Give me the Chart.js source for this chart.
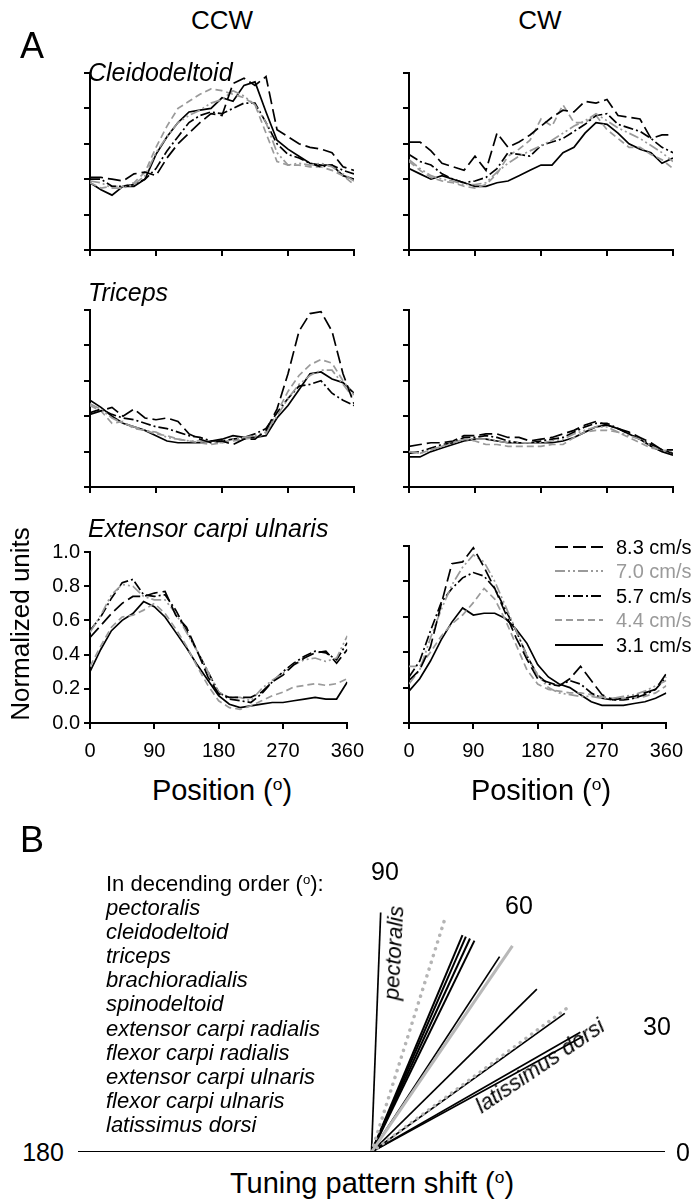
<!DOCTYPE html>
<html>
<head>
<meta charset="utf-8">
<script src="https://cdn.jsdelivr.net/npm/chart.js@4.4.1/dist/chart.umd.min.js"></script>
<style>
  body { margin: 0; background: #fff; }
  #fig { position: relative; width: 693px; height: 1199px; overflow: hidden; font-family: "Liberation Sans", Arial, sans-serif; color: #000; }
  canvas { position: absolute; }
  .t { position: absolute; white-space: nowrap; line-height: 1; }
  .c { transform: translate(-50%, -50%); }
  .l { transform: translateY(-50%); }
  .i { font-style: italic; }
  sup { font-size: 60%; vertical-align: 0.55em; line-height: 0; }
  .gray { color: #9a9a9a; }
</style>
</head>
<body>
<div id="fig">
  <canvas id="p1" width="344" height="197" style="left:30px;top:63px"></canvas>
  <canvas id="p2" width="344" height="197" style="left:349px;top:63px"></canvas>
  <canvas id="p3" width="344" height="197" style="left:30px;top:300px"></canvas>
  <canvas id="p4" width="344" height="197" style="left:349px;top:300px"></canvas>
  <canvas id="p5" width="344" height="232" style="left:30px;top:536px"></canvas>
  <canvas id="p6" width="344" height="232" style="left:349px;top:536px"></canvas>
  <canvas id="pb" width="607" height="314" style="left:68px;top:848px"></canvas>

  <div class="t" style="left:20px;top:28px;font-size:36px">A</div>
  <div class="t c" style="left:222px;top:20px;font-size:26px">CCW</div>
  <div class="t c" style="left:540px;top:20px;font-size:26px">CW</div>
  <div class="t l i" style="left:88px;top:72px;font-size:25px">Cleidodeltoid</div>
  <div class="t l i" style="left:88px;top:292px;font-size:25px">Triceps</div>
  <div class="t l i" style="left:88px;top:528px;font-size:25px">Extensor carpi ulnaris</div>
  <div class="t c" style="left:20px;top:624px;font-size:26px;transform:translate(-50%,-50%) rotate(-90deg)">Normalized units</div>
  <div class="t c" style="left:222px;top:790px;font-size:29px">Position (<sup>o</sup>)</div>
  <div class="t c" style="left:541px;top:790px;font-size:29px">Position (<sup>o</sup>)</div>

  <div id="legend"></div>

  <div class="t" style="left:20px;top:822px;font-size:36px">B</div>
  <div id="muscles"></div>
  <div class="t c" style="left:385px;top:871px;font-size:25px">90</div>
  <div class="t c" style="left:519px;top:905px;font-size:25px">60</div>
  <div class="t c" style="left:657px;top:1026px;font-size:25px">30</div>
  <div class="t c" style="left:43px;top:1152px;font-size:25px">180</div>
  <div class="t c" style="left:683px;top:1152px;font-size:25px">0</div>
  <div class="t c i" style="left:394px;top:953px;font-size:22px;transform:translate(-50%,-50%) rotate(-87deg)">pectoralis</div>
  <div class="t c i" style="left:540px;top:1066px;font-size:22px;transform:translate(-50%,-50%) rotate(-34deg)">latissimus dorsi</div>
  <div class="t c" style="left:372px;top:1183px;font-size:29px">Tuning pattern shift (<sup>o</sup>)</div>
</div>

<script>
// position along the circle (deg)
const positions = [0, 15, 30, 45, 60, 75, 90, 105, 120, 135, 150, 165, 180, 195, 210, 225, 240, 255, 270, 285, 300, 315, 330, 345, 360];
const speeds = ['8.3 cm/s', '7.0 cm/s', '5.7 cm/s', '4.4 cm/s', '3.1 cm/s'];

// Cleidodeltoid, CCW
const cleidoCcw83 = [0.41,0.41,0.40,0.39,0.43,0.44,0.42,0.52,0.60,0.66,0.72,0.77,0.76,0.94,0.97,0.93,0.98,0.68,0.64,0.60,0.58,0.57,0.55,0.47,0.45];
const cleidoCcw70 = [0.39,0.38,0.35,0.35,0.37,0.42,0.55,0.64,0.72,0.76,0.79,0.83,0.85,0.90,0.87,0.82,0.72,0.55,0.48,0.49,0.48,0.49,0.47,0.43,0.39];
const cleidoCcw57 = [0.40,0.40,0.36,0.36,0.37,0.40,0.46,0.56,0.64,0.72,0.76,0.78,0.77,0.80,0.83,0.83,0.72,0.60,0.54,0.52,0.49,0.47,0.48,0.45,0.43];
const cleidoCcw44 = [0.38,0.35,0.36,0.36,0.38,0.44,0.58,0.70,0.80,0.84,0.88,0.91,0.90,0.88,0.86,0.82,0.66,0.50,0.48,0.48,0.47,0.47,0.45,0.42,0.37];
const cleidoCcw31 = [0.38,0.34,0.31,0.36,0.36,0.40,0.54,0.64,0.72,0.78,0.79,0.80,0.86,0.84,0.93,0.95,0.78,0.62,0.57,0.53,0.49,0.48,0.48,0.42,0.40];

// Cleidodeltoid, CW
const cleidoCw83 = [0.61,0.61,0.56,0.49,0.47,0.45,0.53,0.45,0.66,0.58,0.61,0.65,0.70,0.75,0.79,0.78,0.84,0.83,0.85,0.76,0.75,0.74,0.63,0.65,0.65];
const cleidoCw70 = [0.51,0.46,0.42,0.40,0.39,0.37,0.37,0.38,0.44,0.49,0.53,0.56,0.59,0.62,0.66,0.70,0.73,0.77,0.73,0.69,0.66,0.63,0.59,0.55,0.50];
const cleidoCw57 = [0.54,0.50,0.48,0.43,0.40,0.38,0.39,0.41,0.46,0.55,0.54,0.53,0.59,0.61,0.63,0.67,0.71,0.76,0.77,0.71,0.69,0.67,0.63,0.58,0.55];
const cleidoCw44 = [0.50,0.45,0.41,0.39,0.38,0.36,0.35,0.37,0.43,0.53,0.57,0.62,0.74,0.70,0.82,0.72,0.72,0.76,0.68,0.63,0.58,0.58,0.54,0.51,0.46];
const cleidoCw31 = [0.46,0.43,0.40,0.42,0.40,0.38,0.36,0.36,0.38,0.39,0.42,0.45,0.48,0.48,0.55,0.58,0.66,0.72,0.71,0.66,0.60,0.57,0.55,0.49,0.52];

// Triceps, CCW
const tricepsCcw83 = [0.41,0.43,0.45,0.40,0.44,0.39,0.38,0.39,0.37,0.30,0.27,0.25,0.26,0.24,0.27,0.27,0.32,0.44,0.64,0.88,0.98,0.99,0.88,0.64,0.47];
const tricepsCcw70 = [0.47,0.44,0.39,0.36,0.34,0.32,0.31,0.28,0.27,0.26,0.26,0.25,0.25,0.27,0.28,0.29,0.31,0.40,0.50,0.58,0.63,0.66,0.66,0.58,0.50];
const tricepsCcw57 = [0.42,0.44,0.41,0.39,0.38,0.36,0.34,0.33,0.31,0.29,0.28,0.26,0.26,0.27,0.28,0.30,0.33,0.42,0.50,0.57,0.58,0.60,0.53,0.49,0.46];
const tricepsCcw44 = [0.46,0.43,0.36,0.37,0.33,0.32,0.30,0.29,0.27,0.26,0.25,0.24,0.25,0.26,0.27,0.28,0.30,0.42,0.54,0.63,0.69,0.72,0.70,0.60,0.52];
const tricepsCcw31 = [0.49,0.45,0.40,0.36,0.34,0.32,0.29,0.26,0.25,0.25,0.25,0.26,0.27,0.29,0.28,0.28,0.29,0.39,0.46,0.55,0.64,0.65,0.61,0.59,0.53];

// Triceps, CW
const tricepsCw83 = [0.23,0.24,0.25,0.25,0.26,0.29,0.29,0.30,0.30,0.28,0.28,0.26,0.27,0.28,0.30,0.32,0.35,0.37,0.35,0.33,0.31,0.28,0.25,0.21,0.21];
const tricepsCw70 = [0.20,0.19,0.21,0.23,0.25,0.27,0.27,0.27,0.26,0.25,0.25,0.25,0.25,0.26,0.27,0.30,0.32,0.34,0.34,0.31,0.29,0.27,0.23,0.21,0.20];
const tricepsCw57 = [0.19,0.20,0.22,0.24,0.25,0.28,0.28,0.29,0.28,0.26,0.25,0.25,0.26,0.27,0.28,0.31,0.34,0.36,0.36,0.33,0.30,0.27,0.24,0.21,0.19];
const tricepsCw44 = [0.20,0.19,0.21,0.23,0.25,0.27,0.26,0.24,0.24,0.23,0.23,0.23,0.23,0.24,0.24,0.28,0.31,0.32,0.32,0.31,0.28,0.25,0.22,0.21,0.19];
const tricepsCw31 = [0.17,0.17,0.20,0.22,0.24,0.26,0.27,0.27,0.26,0.25,0.25,0.25,0.25,0.25,0.26,0.28,0.31,0.34,0.35,0.33,0.30,0.27,0.23,0.20,0.18];

// Extensor carpi ulnaris, CCW
const ecuCcw83 = [0.50,0.57,0.64,0.70,0.74,0.74,0.76,0.77,0.63,0.56,0.42,0.27,0.17,0.15,0.15,0.15,0.18,0.24,0.28,0.34,0.38,0.41,0.42,0.35,0.43];
const ecuCcw70 = [0.53,0.63,0.75,0.81,0.80,0.74,0.72,0.72,0.64,0.53,0.42,0.30,0.18,0.15,0.15,0.13,0.20,0.25,0.29,0.34,0.37,0.38,0.36,0.38,0.51];
const ecuCcw57 = [0.54,0.62,0.73,0.82,0.84,0.75,0.74,0.75,0.66,0.54,0.42,0.30,0.18,0.14,0.13,0.12,0.17,0.24,0.30,0.35,0.39,0.42,0.41,0.37,0.47];
const ecuCcw44 = [0.33,0.45,0.56,0.62,0.63,0.66,0.70,0.64,0.55,0.45,0.33,0.22,0.13,0.09,0.08,0.10,0.13,0.16,0.18,0.21,0.22,0.23,0.22,0.23,0.26];
const ecuCcw31 = [0.30,0.43,0.54,0.60,0.64,0.71,0.68,0.62,0.53,0.44,0.34,0.25,0.16,0.11,0.09,0.10,0.11,0.12,0.12,0.13,0.14,0.15,0.14,0.14,0.24];

// Extensor carpi ulnaris, CW
const ecuCw83 = [0.24,0.30,0.43,0.67,0.90,0.91,0.99,0.88,0.76,0.62,0.48,0.36,0.25,0.23,0.21,0.25,0.32,0.24,0.16,0.13,0.14,0.15,0.17,0.19,0.28];
const ecuCw70 = [0.22,0.30,0.48,0.64,0.78,0.88,0.95,0.91,0.80,0.66,0.52,0.38,0.27,0.20,0.17,0.16,0.15,0.15,0.14,0.14,0.15,0.16,0.18,0.21,0.24];
const ecuCw57 = [0.26,0.35,0.52,0.68,0.76,0.82,0.85,0.83,0.76,0.64,0.52,0.38,0.27,0.22,0.21,0.24,0.22,0.17,0.14,0.13,0.13,0.14,0.16,0.19,0.26];
const ecuCw44 = [0.32,0.32,0.40,0.49,0.56,0.61,0.68,0.76,0.70,0.58,0.44,0.30,0.22,0.19,0.18,0.17,0.17,0.16,0.15,0.14,0.14,0.14,0.15,0.17,0.21];
const ecuCw31 = [0.18,0.25,0.35,0.47,0.57,0.65,0.61,0.62,0.62,0.59,0.53,0.45,0.33,0.26,0.22,0.20,0.16,0.12,0.10,0.10,0.10,0.11,0.12,0.14,0.17];

// panel B: tuning pattern shift per muscle (deg) and vector length
const muscles = ['pectoralis', 'cleidodeltoid', 'triceps', 'brachioradialis', 'spinodeltoid',
  'extensor carpi radialis', 'flexor carpi radialis', 'extensor carpi ulnaris', 'flexor carpi ulnaris', 'latissimus dorsi'];
const shiftAngles = [87.8, 67.2, 66.3, 65.2, 64.0, 56.7, 44.5, 35.6, 29.8, 28.6];
const shiftLengths = [0.815, 0.80, 0.80, 0.80, 0.80, 0.795, 0.79, 0.81, 0.82, 0.82];
const boundAngles = [72.5, 36.3];
const boundLengths = [0.836, 0.83];
const meanAngle = [55.6];
const meanLength = [0.85];

const FONT = '"Liberation Sans", Arial, sans-serif';
const speedColors = ['#000', '#9a9a9a', '#000', '#9a9a9a', '#000'];
const speedDash = [[13, 5], [10, 3, 2, 3, 2, 3], [10, 3, 2, 3], [7, 4], []];

function makePanel(id, series, showX, showY) {
  const datasets = series.map((vals, i) => ({
    label: speeds[i],
    data: vals.map((v, j) => ({ x: positions[j], y: v })),
    borderColor: speedColors[i],
    borderDash: speedDash[i],
    borderWidth: 1.7,
    pointRadius: 0,
    tension: 0,
    fill: false
  }));
  const axisGrid = { drawOnChartArea: false, color: '#000', lineWidth: 2, tickLength: 6 };
  new Chart(document.getElementById(id), {
    type: 'line',
    data: { datasets },
    options: {
      responsive: false,
      animation: false,
      layout: { padding: { left: 0, right: 20, top: 10, bottom: 0 } },
      plugins: { legend: { display: false }, tooltip: { enabled: false } },
      scales: {
        x: {
          type: 'linear', min: 0, max: 360,
          ticks: { stepSize: 90, display: showX, color: '#000', font: { size: 20, family: FONT }, padding: 10, maxRotation: 0 },
          grid: axisGrid,
          border: { color: '#000', width: 2 },
          afterFit: s => { s.height = showX ? 45 : 10; }
        },
        y: {
          min: 0, max: 1,
          ticks: { stepSize: 0.2, display: showY, color: '#000', font: { size: 20, family: FONT }, padding: 4,
                   callback: v => v.toFixed(1) },
          grid: axisGrid,
          border: { color: '#000', width: 2 },
          afterFit: s => { s.width = 60; }
        }
      }
    }
  });
}

makePanel('p1', [cleidoCcw83, cleidoCcw70, cleidoCcw57, cleidoCcw44, cleidoCcw31], false, false);
makePanel('p2', [cleidoCw83, cleidoCw70, cleidoCw57, cleidoCw44, cleidoCw31], false, false);
makePanel('p3', [tricepsCcw83, tricepsCcw70, tricepsCcw57, tricepsCcw44, tricepsCcw31], false, false);
makePanel('p4', [tricepsCw83, tricepsCw70, tricepsCw57, tricepsCw44, tricepsCw31], false, false);
makePanel('p5', [ecuCcw83, ecuCcw70, ecuCcw57, ecuCcw44, ecuCcw31], true, true);
makePanel('p6', [ecuCw83, ecuCw70, ecuCw57, ecuCw44, ecuCw31], true, false);

// legend (html, swatches as svg lines)
const legend = document.getElementById('legend');
const legendY = [547, 571, 596, 620, 645];
speeds.forEach((s, i) => {
  const dash = speedDash[i].length ? speedDash[i].join(' ') : 'none';
  const row = document.createElement('div');
  row.innerHTML =
    '<svg style="position:absolute;left:555px;top:' + (legendY[i] - 3) + 'px" width="48" height="6">' +
    '<line x1="0" y1="3" x2="48" y2="3" stroke="' + speedColors[i] + '" stroke-width="2.2" stroke-dasharray="' + dash + '"/></svg>' +
    '<div class="t l' + (speedColors[i] !== '#000' ? ' gray' : '') + '" style="left:616px;top:' + legendY[i] + 'px;font-size:20px">' + s + '</div>';
  legend.appendChild(row);
});

// muscle list
const list = document.getElementById('muscles');
const head = document.createElement('div');
head.className = 't l';
head.style.cssText = 'left:106px;top:884px;font-size:22px';
head.innerHTML = 'In decending order (<sup>o</sup>):';
list.appendChild(head);
muscles.forEach((m, i) => {
  const d = document.createElement('div');
  d.className = 't l i';
  d.style.cssText = 'left:106px;top:' + (908 + i * 24.1) + 'px;font-size:22px';
  d.textContent = m;
  list.appendChild(d);
});

// panel B: vectors from origin
const toXY = (a, r) => [{ x: 0, y: 0 }, { x: r * Math.cos(a * Math.PI / 180), y: r * Math.sin(a * Math.PI / 180) }];
const fan = [];
fan.push({ data: [{ x: -1, y: 0 }, { x: 1, y: 0 }], borderColor: '#000', borderWidth: 2 });
boundAngles.forEach((a, i) => fan.push({
  data: toXY(a, boundLengths[i]), borderColor: '#b4b4b4', borderWidth: 3.5,
  borderDash: [0.1, 7], borderCapStyle: 'round'
}));
meanAngle.forEach((a, i) => fan.push({ data: toXY(a, meanLength[i]), borderColor: '#b8b8b8', borderWidth: 3 }));
shiftAngles.forEach((a, i) => fan.push({
  data: toXY(a, shiftLengths[i]), borderColor: '#000', borderWidth: (i >= 1 && i <= 4) ? 2 : 1.7
}));
fan.forEach(d => { d.pointRadius = 0; d.showLine = true; d.fill = false; });

new Chart(document.getElementById('pb'), {
  type: 'scatter',
  data: { datasets: fan },
  options: {
    responsive: false,
    animation: false,
    layout: { padding: 10 },
    plugins: { legend: { display: false }, tooltip: { enabled: false } },
    scales: {
      x: { type: 'linear', min: -1, max: 1, display: false },
      y: { type: 'linear', min: 0, max: 1, display: false }
    }
  }
});
</script>
</body>
</html>
